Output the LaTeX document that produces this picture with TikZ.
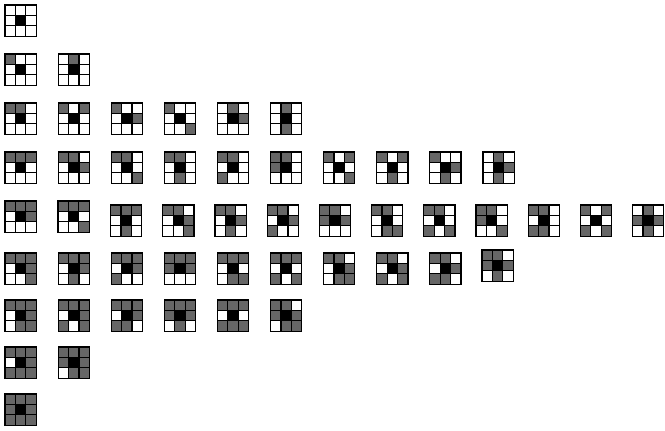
\documentclass[tikz,border=0pt]{standalone}
\usepackage{tikz}
\definecolor{cellgrey}{RGB}{102,102,102}
\tikzset{gridline/.style={black,line width=0.9pt}}
\newcommand{\cellw}{10.4}
% one 3x3 neighbourhood: x, y (top left), grey cells 1..9 row by row
\newcommand{\nbhd}[3]{%
  \begin{scope}[shift={(#1,#2)}]
    \edef\nblist{#3}
    \foreach \k in \nblist {
      \pgfmathtruncatemacro{\nbcol}{mod(\k-1,3)}
      \pgfmathtruncatemacro{\nbrow}{int((\k-1)/3)}
      \fill[cellgrey] (\nbcol*\cellw,\nbrow*\cellw) rectangle ++(\cellw,\cellw);
    }
    \fill[black] (\cellw,\cellw) rectangle ++(\cellw,\cellw);
    \draw[gridline] (0,0) rectangle (3*\cellw,3*\cellw)
      (\cellw,0) -- (\cellw,3*\cellw) (2*\cellw,0) -- (2*\cellw,3*\cellw)
      (0,\cellw) -- (3*\cellw,\cellw) (0,2*\cellw) -- (3*\cellw,2*\cellw);
  \end{scope}}

\begin{document}
\begin{tikzpicture}[x=0.75pt,y=-0.75pt]
  \useasboundingbox (0,0) rectangle (665,430);
  % ---- no grey neighbour
  \nbhd{5}{5}{5}
  % ---- one
  \foreach [count=\i from 0] \cells in {{1},{2}}
    {\nbhd{5+53.1*\i}{54}{\cells}}
  % ---- two
  \foreach [count=\i from 0] \cells in {{1,2},{1,3},{1,6},{1,9},{2,6},{2,8}}
    {\nbhd{5+53.1*\i}{103}{\cells}}
  % ---- three
  \foreach [count=\i from 0] \cells in {{1,2,3},{1,2,6},{1,2,9},{1,2,8},{1,2,7},
      {1,2,4},{1,3,9},{1,3,8},{1,6,8},{2,6,8}}
    {\nbhd{5+53.1*\i}{152}{\cells}}
  % ---- four
  \nbhd{5}{201}{1,2,3,6}
  \nbhd{58}{201}{1,2,3,9}
  \foreach [count=\i from 0] \cells in {{1,2,3,8},{1,2,6,9},{1,2,6,8},{1,2,6,7},
      {1,2,4,6},{1,2,8,9},{1,2,7,9},{1,2,4,9},{1,2,7,8},{1,3,7,9},{2,4,6,8}}
    {\nbhd{110.5+52.2*\i}{205}{\cells}}
  % ---- five
  \foreach [count=\i from 0] \cells in {{1,2,3,6,9},{1,2,3,6,8},{1,2,3,6,7},
      {1,2,3,4,6},{1,2,3,8,9},{1,2,3,7,9},{1,2,6,8,9},{1,2,6,7,9},{1,2,6,7,8}}
    {\nbhd{5+53.1*\i}{253}{\cells}}
  \nbhd{482}{250}{1,2,4,6,8}
  % ---- six
  \foreach [count=\i from 0] \cells in {{1,2,3,6,8,9},{1,2,3,6,7,9},{1,2,3,6,7,8},
      {1,2,3,4,6,8},{1,2,3,7,8,9},{1,2,4,6,8,9}}
    {\nbhd{5+53.1*\i}{300}{\cells}}
  % ---- seven
  \foreach [count=\i from 0] \cells in {{1,2,3,6,7,8,9},{1,2,3,4,6,8,9}}
    {\nbhd{5+53.1*\i}{347}{\cells}}
  % ---- eight
  \nbhd{5}{394}{1,2,3,4,6,7,8,9}
\end{tikzpicture}
\end{document}
